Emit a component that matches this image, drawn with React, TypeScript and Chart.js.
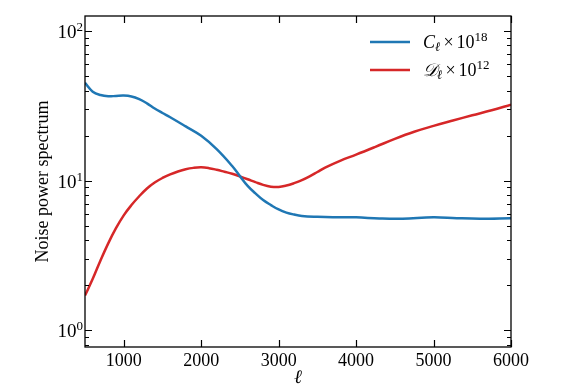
import React, { useEffect, useRef } from 'react';
import { Chart, registerables } from 'chart.js';

Chart.register(...registerables);

// ---------- data ----------
const ellC = [500, 600, 700, 800, 900, 1000, 1100, 1200, 1300, 1400, 1500, 1600, 1800, 2000, 2200, 2400, 2500, 2600, 2700, 2800, 2900, 3000, 3100, 3200, 3300, 3500, 3700, 4000, 4300, 4600, 5000, 5300, 5600, 6000];
const clValues = [45, 39.3, 37.3, 36.6, 36.8, 37, 36.5, 35, 32.8, 30.3, 28.3, 26.5, 23, 19.9, 16.2, 12.5, 10.7, 9.2, 8.2, 7.4, 6.85, 6.4, 6.1, 5.92, 5.8, 5.72, 5.68, 5.67, 5.58, 5.56, 5.69, 5.6, 5.55, 5.6];

const ellD = [500, 600, 700, 800, 900, 1000, 1100, 1200, 1300, 1400, 1500, 1600, 1700, 1800, 1900, 2000, 2100, 2200, 2300, 2400, 2500, 2600, 2700, 2800, 2900, 3000, 3100, 3200, 3300, 3400, 3500, 3600, 3800, 4000, 4250, 4500, 4750, 5000, 5250, 5500, 5750, 6000];
const dlValues = [1.7, 2.2, 2.92, 3.8, 4.8, 5.85, 6.85, 7.85, 8.85, 9.7, 10.4, 11.0, 11.5, 11.9, 12.15, 12.25, 12.1, 11.8, 11.45, 11.1, 10.65, 10.2, 9.75, 9.35, 9.1, 9.05, 9.25, 9.6, 10.05, 10.65, 11.4, 12.2, 13.6, 14.9, 16.8, 19.0, 21.2, 23.2, 25.2, 27.3, 29.5, 32.2];

const xTickValues = [1000, 2000, 3000, 4000, 5000, 6000];
const yDecades = [1, 10, 100];
const yExponents = ['0', '1', '2'];
const yMinorTicks = [0.8, 0.9, 2, 3, 4, 5, 6, 7, 8, 9, 20, 30, 40, 50, 60, 70, 80, 90];

const xMin = 500;
const xMax = 6000;
const yMin = 0.77;
const yMax = 126;

const yTitle = 'Noise power spectrum';
const xTitle = 'ℓ';
const legendEntries = [
  { base: 'C', sub: 'ℓ', mult: '×', ten: '10', exp: '18', color: '#1f77b4' },
  { base: '𝒟', sub: 'ℓ', mult: '×', ten: '10', exp: '12', color: '#d62728' },
];

const SERIF = "'Liberation Serif', 'Times New Roman', 'DejaVu Serif', serif";

const framePlugin = {
  id: 'framePlugin',
  afterDraw(chart: any) {
    const { ctx, chartArea } = chart;
    const { left, right, top, bottom } = chartArea;
    const xs = chart.scales.x;
    const ys = chart.scales.y;
    ctx.save();
    ctx.strokeStyle = '#000';
    ctx.lineWidth = 1.2;
    ctx.beginPath();
    for (const v of xTickValues) {
      const px = Math.round(xs.getPixelForValue(v)) + 0.5;
      ctx.moveTo(px, bottom);
      ctx.lineTo(px, bottom - 7);
      ctx.moveTo(px, top);
      ctx.lineTo(px, top + 7);
    }
    for (const v of yDecades) {
      const py = Math.round(ys.getPixelForValue(v)) + 0.5;
      ctx.moveTo(left, py);
      ctx.lineTo(left + 7, py);
      ctx.moveTo(right, py);
      ctx.lineTo(right - 7, py);
    }
    ctx.stroke();
    ctx.lineWidth = 1;
    ctx.beginPath();
    for (const v of yMinorTicks) {
      const py = Math.round(ys.getPixelForValue(v)) + 0.5;
      if (py < top || py > bottom) continue;
      ctx.moveTo(left, py);
      ctx.lineTo(left + 4, py);
      ctx.moveTo(right, py);
      ctx.lineTo(right - 4, py);
    }
    ctx.stroke();
    ctx.lineWidth = 1.3;
    ctx.strokeRect(left, top, right - left, bottom - top);

    // y tick labels with superscripts
    ctx.fillStyle = '#000';
    yDecades.forEach((v, i) => {
      const py = ys.getPixelForValue(v);
      ctx.font = `13px ${SERIF}`;
      const we = ctx.measureText(yExponents[i]).width;
      ctx.font = `19px ${SERIF}`;
      const wb = ctx.measureText('10').width;
      const R = left - 2;
      ctx.textBaseline = 'alphabetic';
      ctx.textAlign = 'left';
      ctx.fillText('10', R - we - wb, py + 7);
      ctx.font = `13px ${SERIF}`;
      ctx.fillText(yExponents[i], R - we, py);
    });

    // legend
    legendEntries.forEach((e, i) => {
      const cy = 42 + i * 28;
      const x0 = 370;
      ctx.strokeStyle = e.color;
      ctx.lineWidth = 2.5;
      ctx.beginPath();
      ctx.moveTo(x0, cy);
      ctx.lineTo(x0 + 40, cy);
      ctx.stroke();
      let tx = x0 + 53;
      const base = cy + 6;
      ctx.fillStyle = '#000';
      ctx.textBaseline = 'alphabetic';
      ctx.textAlign = 'left';
      ctx.font = `italic 18px ${SERIF}`;
      ctx.fillText(e.base, tx, base);
      tx += ctx.measureText(e.base).width;
      ctx.font = `italic 13px ${SERIF}`;
      ctx.fillText(e.sub, tx, base + 3);
      tx += ctx.measureText(e.sub).width + 3;
      ctx.font = `18px ${SERIF}`;
      ctx.fillText(e.mult, tx, base);
      tx += ctx.measureText(e.mult).width + 3;
      ctx.fillText(e.ten, tx, base);
      tx += ctx.measureText(e.ten).width;
      ctx.font = `13px ${SERIF}`;
      ctx.fillText(e.exp, tx, base - 7);
    });
    ctx.restore();
  },
};

export default function App() {
  const canvasRef = useRef<HTMLCanvasElement | null>(null);

  useEffect(() => {
    document.body.style.margin = '0';
    const canvas = canvasRef.current;
    if (!canvas) return;
    const chart = new Chart(canvas, {
      type: 'line',
      data: {
        datasets: [
          {
            label: 'C',
            data: ellC.map((x, i) => ({ x, y: clValues[i] })),
            borderColor: legendEntries[0].color,
            borderWidth: 2.5,
            pointRadius: 0,
            tension: 0.4,
            fill: false,
          },
          {
            label: 'D',
            data: ellD.map((x, i) => ({ x, y: dlValues[i] })),
            borderColor: legendEntries[1].color,
            borderWidth: 2.5,
            pointRadius: 0,
            tension: 0.4,
            fill: false,
          },
        ],
      },
      options: {
        animation: false,
        responsive: false,
        devicePixelRatio: 1,
        layout: { padding: { left: 0, right: 57, top: 16, bottom: 0 } },
        plugins: {
          legend: { display: false },
          tooltip: { enabled: false },
        },
        scales: {
          x: {
            type: 'linear',
            min: xMin,
            max: xMax,
            afterBuildTicks: (s: any) => {
              s.ticks = xTickValues.map((v) => ({ value: v }));
            },
            afterFit: (s: any) => {
              s.height = 45;
            },
            grid: { display: false, drawTicks: false },
            border: { display: false },
            ticks: {
              color: '#000',
              font: { family: SERIF, size: 18 },
              padding: 3,
              maxRotation: 0,
              autoSkip: false,
              callback: (v: any) => String(v),
            },
            title: {
              display: true,
              text: xTitle,
              color: '#000',
              font: { family: SERIF, size: 19, style: 'italic' },
              padding: { top: 0, bottom: 3 },
            },
          },
          y: {
            type: 'logarithmic',
            min: yMin,
            max: yMax,
            afterFit: (s: any) => {
              s.width = 85;
            },
            grid: { display: false, drawTicks: false },
            border: { display: false },
            ticks: { display: false },
            title: {
              display: true,
              text: yTitle,
              color: '#000',
              font: { family: SERIF, size: 18 },
              padding: { top: 32, bottom: 0 },
            },
          },
        },
      },
      plugins: [framePlugin],
    } as any);
    return () => chart.destroy();
  }, []);

  return (
    <div style={{ position: 'absolute', left: 0, top: 0, width: 568, height: 392 }}>
      <canvas ref={canvasRef} width={568} height={392} style={{ display: 'block' }} />
    </div>
  );
}
